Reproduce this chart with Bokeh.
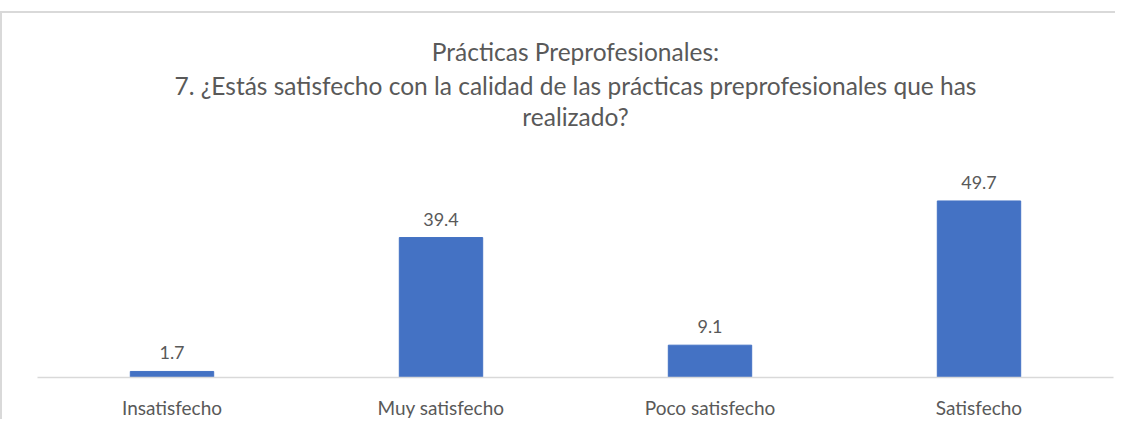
from bokeh.plotting import figure
from bokeh.models import ColumnDataSource, Range1d, Title
from bokeh.embed import file_html
from bokeh.resources import INLINE
from bokeh.core.properties import value

categories = ["Insatisfecho", "Muy satisfecho", "Poco satisfecho", "Satisfecho"]
values = [1.7, 39.4, 9.1, 49.7]
labels = ["1.7", "39.4", "9.1", "49.7"]

title_lines = ["Prácticas Preprofesionales:",
               "7. ¿Estás satisfecho con la calidad de las prácticas preprofesionales que has",
               "realizado?"]

src = ColumnDataSource(dict(cat=categories, val=values, lab=labels))

p = figure(x_range=categories, y_range=Range1d(0, 67), width=1115, height=408,
           output_backend="svg", toolbar_location=None,
           min_border_left=35, min_border_right=4, min_border_top=126, min_border_bottom=0)
p.margin = (11, 0, 0, 0)
p.styles = {"border-top": "2px solid #d9d9d9", "border-left": "2px solid #d9d9d9"}
p.title.visible = False

# small spacer between the title block and the plot area
p.add_layout(Title(text=" ", text_font_size="3px", standoff=4), "above")
standoffs = [0, 0, 6]
for line, so in zip(reversed(title_lines), standoffs):
    t = Title(text=line, align="center", text_font="Lato", text_font_size="24.5px",
              text_font_style="normal", text_color="#595959", standoff=so)
    p.add_layout(t, "above")

p.vbar(x="cat", top="val", width=0.31, source=src, color="#4472C4")
p.text(x="cat", y="val", text="lab", source=src, text_align="center",
       text_baseline="bottom", y_offset=-12, text_font=value("Lato"),
       text_font_size="18px", text_color="#595959")

p.x_range.range_padding = 0
p.yaxis.visible = False
p.xgrid.visible = False
p.ygrid.visible = False
p.outline_line_color = None

ax = p.xaxis[0]
ax.axis_line_color = "#d9d9d9"
ax.axis_line_width = 1.5
ax.major_tick_line_color = None
ax.minor_tick_line_color = None
ax.major_label_text_font = "Lato"
ax.major_label_text_font_size = "19px"
ax.major_label_text_color = "#595959"
ax.major_label_standoff = 12

open("out.html", "w").write(file_html(p, INLINE))
